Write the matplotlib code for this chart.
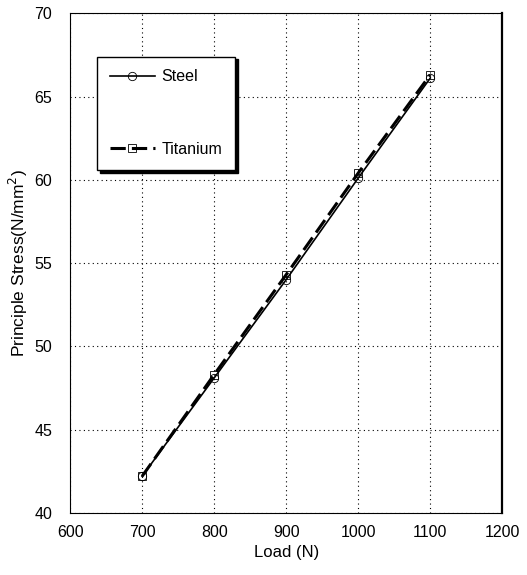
import matplotlib

matplotlib.use("Agg")
import matplotlib.pyplot as plt

plt.rcParams["font.family"] = ["Liberation Sans", "DejaVu Sans"]

load = [700, 800, 900, 1000, 1100]
steel = [42.2, 48.1, 54.0, 60.1, 66.1]
titanium = [42.2, 48.3, 54.3, 60.4, 66.3]
x_ticks = [600, 700, 800, 900, 1000, 1100, 1200]
y_ticks = [40, 45, 50, 55, 60, 65, 70]

fig = plt.figure(figsize=(5.27, 5.75), dpi=100)
ax = fig.add_axes([0.133, 0.108, 0.820, 0.869])

ax.plot(load, steel, color="black", linewidth=1.2, marker="o", markersize=6,
        markerfacecolor="none", markeredgewidth=0.6, label="Steel")
ax.plot(load, titanium, color="black", linewidth=2.2, linestyle=(0, (5, 2)),
        marker="s", markersize=6, markerfacecolor="none", markeredgewidth=0.6,
        label="Titanium")

ax.set_xlim(600, 1200)
ax.set_ylim(40, 70)
ax.set_xticks(x_ticks)
ax.set_yticks(y_ticks)
ax.tick_params(axis="x", direction="in", length=0, labelsize=11.5, pad=9)
ax.tick_params(axis="y", direction="in", length=0, labelsize=11.5, pad=13)
ax.grid(True, color="black", linestyle=(0, (1, 3)), linewidth=0.8)
ax.set_xlabel("Load (N)", fontsize=12, labelpad=3)
ax.set_ylabel("Principle Stress(N/mm$^2$)", fontsize=12.5, labelpad=3)
for sp in ax.spines.values():
    sp.set_linewidth(0.8)
ax.spines["right"].set_linewidth(1.6)

leg = ax.legend(loc="upper left", bbox_to_anchor=(0.063, 0.913), frameon=True,
                fancybox=False, shadow={"color": "black", "alpha": 1.0},
                labelspacing=3.6, handlelength=2.8, handletextpad=0.4,
                borderpad=0.8, fontsize=11.5, borderaxespad=0)
leg.get_frame().set_edgecolor("black")
leg.get_frame().set_linewidth(1.0)

fig.savefig("out.png", dpi=100)
plt.close(fig)
